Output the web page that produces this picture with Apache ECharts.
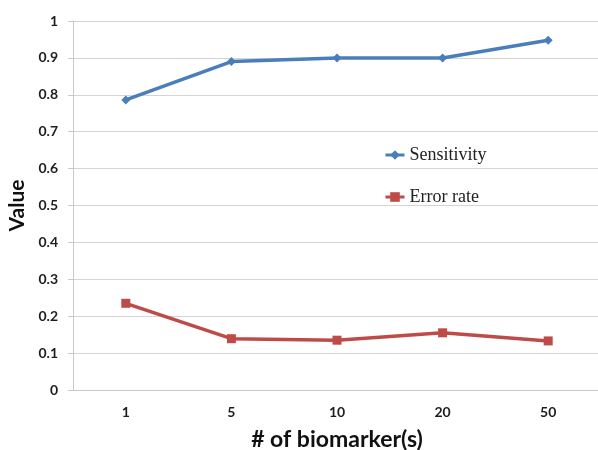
<!DOCTYPE html>
<html>
<head>
<meta charset="utf-8">
<script src="https://cdn.jsdelivr.net/npm/echarts@6/dist/echarts.min.js"></script>
<style>html,body{margin:0;padding:0;background:#fff;}#c{width:598px;height:450px;}</style>
</head>
<body>
<div id="c"></div>
<script>
const categories = ['1', '5', '10', '20', '50'];
const sensitivity = [0.786, 0.890, 0.900, 0.900, 0.948];
const errorRate = [0.235, 0.139, 0.135, 0.155, 0.133];
const seriesNames = ['Sensitivity', 'Error rate'];

const chart = echarts.init(document.getElementById('c'), null, {renderer: 'canvas'});
chart.setOption({
  backgroundColor: '#ffffff',
  animation: false,
  grid: {left: 73, top: 21, width: 528, height: 369, containLabel: false, outerBoundsMode: 'none'},
  legend: {
    orient: 'vertical',
    left: 384,
    top: 146,
    padding: 0,
    itemWidth: 19,
    itemHeight: 12,
    itemGap: 24,
    lineStyle: {width: 3},
    textStyle: {fontFamily: 'Liberation Serif', fontSize: 18, color: '#222'},
    data: seriesNames
  },
  xAxis: {
    type: 'category',
    data: categories,
    boundaryGap: true,
    name: '# of biomarker(s)',
    nameLocation: 'middle',
    nameGap: 38,
    nameTextStyle: {fontFamily: 'Lato', fontWeight: 'bold', fontSize: 23, color: '#111'},
    axisLine: {show: true, lineStyle: {color: '#c8c8c8', width: 1}},
    axisTick: {show: false},
    axisLabel: {fontFamily: 'Lato', fontWeight: 'bold', fontSize: 14, color: '#1e1e1e', margin: 15}
  },
  yAxis: {
    type: 'value',
    min: 0, max: 1, interval: 0.1,
    name: 'Value',
    nameLocation: 'middle',
    nameGap: 43,
    nameRotate: 90,
    nameTextStyle: {fontFamily: 'Lato', fontWeight: 'bold', fontSize: 21, color: '#111'},
    axisLine: {show: true, lineStyle: {color: '#c8c8c8', width: 1}},
    axisTick: {show: true, length: 5, lineStyle: {color: '#c8c8c8'}},
    axisLabel: {fontFamily: 'Lato', fontWeight: 'bold', fontSize: 14, color: '#1e1e1e', margin: 15},
    splitLine: {show: true, lineStyle: {color: '#d4d4d4', width: 1}}
  },
  series: [
    {
      name: seriesNames[0], type: 'line', data: sensitivity,
      symbol: 'diamond', symbolSize: 9,
      lineStyle: {color: '#4A7EBB', width: 3.5},
      itemStyle: {color: '#4A7EBB'}
    },
    {
      name: seriesNames[1], type: 'line', data: errorRate,
      symbol: 'rect', symbolSize: 9,
      lineStyle: {color: '#BE4B48', width: 3.5},
      itemStyle: {color: '#BE4B48'}
    }
  ]
});
</script>
</body>
</html>
